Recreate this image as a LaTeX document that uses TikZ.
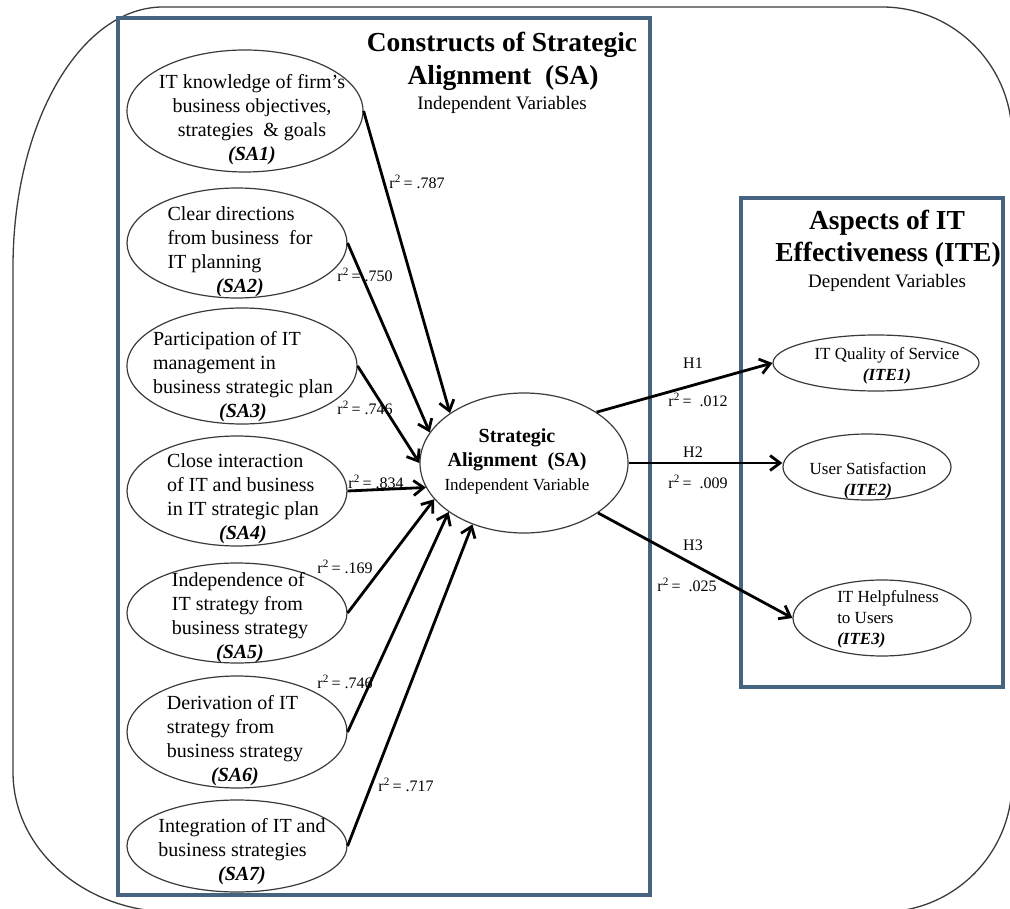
\documentclass[tikz,border=0pt]{standalone}
\usepackage{fontspec}
\setmainfont{Liberation Serif}
\usetikzlibrary{arrows.meta,shapes.geometric}

\definecolor{panelblue}{HTML}{46637F}
\definecolor{rimgray}{HTML}{3A3A3A}

\tikzset{
  var/.style={ellipse, draw=rimgray, line width=1.2pt, inner sep=0pt},
  vartext/.style={inner sep=0pt, font=\fontsize{20}{24}\selectfont},
  ite/.style={inner sep=0pt, font=\fontsize{17}{21}\selectfont},
  coef/.style={inner sep=1pt, font=\fontsize{16}{18}\selectfont},
  head/.style={inner sep=0pt, anchor=base, font=\fontsize{27.5}{33}\selectfont\bfseries},
  subhead/.style={inner sep=0pt, anchor=base, font=\fontsize{19}{23}\selectfont},
  link/.style={line width=2.8pt, -{Straight Barb[length=10pt,width=15pt]}},
  panel/.style={draw=panelblue, line width=3.2pt},
}

\newcommand{\satag}[1]{\multicolumn{1}{@{}c@{}}{\bfseries\itshape (#1)}}

\begin{document}
\begin{tikzpicture}[x=1pt, y=-1pt]
\useasboundingbox (0,0) rectangle (1010,909);
% outer frame
\draw[rimgray, line width=1.3pt] (163,7) -- (882,7)
  .. controls (953.8,7) and (1012,65.2) .. (1012,137) -- (1012,782)
  .. controls (1012,853.8) and (953.8,912) .. (882,912) -- (173,912)
  .. controls (84.6,912) and (13,849.3) .. (13,772) -- (13,267)
  .. controls (13,123.4) and (80.2,7) .. cycle;

% panels
\draw[panel] (118,18) rectangle (650,895);
\draw[panel] (741,198) rectangle (1003,687);

\node[head] (sa-head) at (502,52) {Constructs of Strategic};
\node[head] (sa-head-2) at (503,85) {Alignment \ (SA)};
\node[subhead] (sa-sub) at (502,110) {Independent Variables};
\node[head] (ite-head) at (887,230) {Aspects of IT};
\node[head] (ite-head-2) at (888,262) {Effectiveness (ITE)};
\node[subhead] (ite-sub) at (887,288) {Dependent Variables};

% independent variables
\foreach[count=\i] \cx/\cy/\rx/\ry in {245/111/118/61, 237/243/110/55,
    242/366/115/58, 237/491/110/55, 237/613/110/50, 237/732/110/56,
    237/846/110/46}
  \node[var, minimum width=2*\rx, minimum height=2*\ry] (sa\i) at (\cx,\cy) {};

\node[vartext] (sa1-t) at (252,120) {\begin{tabular}{@{}c@{}}IT knowledge of firm's\\
  business objectives,\\strategies \ \& goals\\{\bfseries\itshape (SA1)}\end{tabular}};
\node[vartext] (sa2-t) at (240,252) {\begin{tabular}{@{}l@{}}Clear directions\\
  from business \ for\\IT planning\\\satag{SA2}\end{tabular}};
\node[vartext] (sa3-t) at (243,377) {\begin{tabular}{@{}l@{}}Participation of IT\\
  management in\\business strategic plan\\\satag{SA3}\end{tabular}};
\node[vartext] (sa4-t) at (243,499) {\begin{tabular}{@{}l@{}}Close interaction\\
  of IT and business\\in IT strategic plan\\\satag{SA4}\end{tabular}};
\node[vartext] (sa5-t) at (240,618) {\begin{tabular}{@{}l@{}}Independence of\\
  IT strategy from\\business strategy\\\satag{SA5}\end{tabular}};
\node[vartext] (sa6-t) at (235,741) {\begin{tabular}{@{}l@{}}Derivation of IT\\
  strategy from\\business strategy\\\satag{SA6}\end{tabular}};
\node[vartext] (sa7-t) at (242,852) {\begin{tabular}{@{}l@{}}Integration of IT and\\
  business strategies\\\satag{SA7}\end{tabular}};

% mediator
\node[var, minimum width=208, minimum height=140] (sa) at (524,463) {};
\node[vartext] (sa-t) at (517,462) {\begin{tabular}{@{}c@{}}\bfseries Strategic\\
  \bfseries Alignment \ (SA)\\\fontsize{17}{20}\selectfont Independent Variable\end{tabular}};

% dependent variables
\node[var, minimum width=206, minimum height=56] (ite1) at (876,363) {};
\node[ite] (ite1-t) at (887,366) {\begin{tabular}{@{}c@{}}IT Quality of Service\\
  {\bfseries\itshape (ITE1)}\end{tabular}};
\node[var, minimum width=168, minimum height=66] (ite2) at (867,467) {};
\node[ite] (ite2-t) at (868,481) {\begin{tabular}{@{}c@{}}User Satisfaction\\
  {\bfseries\itshape (ITE2)}\end{tabular}};
\node[var, minimum width=178, minimum height=76] (ite3) at (882,618) {};
\node[ite] (ite3-t) at (888,619) {\begin{tabular}{@{}l@{}}IT Helpfulness\\
  to Users\\{\bfseries\itshape (ITE3)}\end{tabular}};

% paths
\foreach \i/\a in {1/146,2/162,3/180,4/194,5/202,6/213,7/230}
  \draw[link] (sa\i.east) -- (sa.\a);
\draw[link] (sa.35) -- (ite1.west);
\draw[link] (sa.east) -- (sa.east -| ite2.west);
\draw[link] (sa.326) -- (ite3.west);

\foreach[count=\i] \x/\y/\v in {417/182/.787, 365/275/.750, 365/408/.746,
    376/482/.834, 345/567/.169, 345/682/.746, 406/785/.717}
  \node[coef] (r-\i) at (\x,\y) {r\textsuperscript{2}\,= \v};

\node[coef] (h-1) at (693,363) {H1};
\node[coef] (r-h1) at (698,400) {r\textsuperscript{2}\,= \ .012};
\node[coef] (h-2) at (693,452) {H2};
\node[coef] (r-h2) at (698,482) {r\textsuperscript{2}\,= \ .009};
\node[coef] (h-3) at (693,545) {H3};
\node[coef] (r-h3) at (687,585) {r\textsuperscript{2}\,= \ .025};
\end{tikzpicture}
\end{document}
